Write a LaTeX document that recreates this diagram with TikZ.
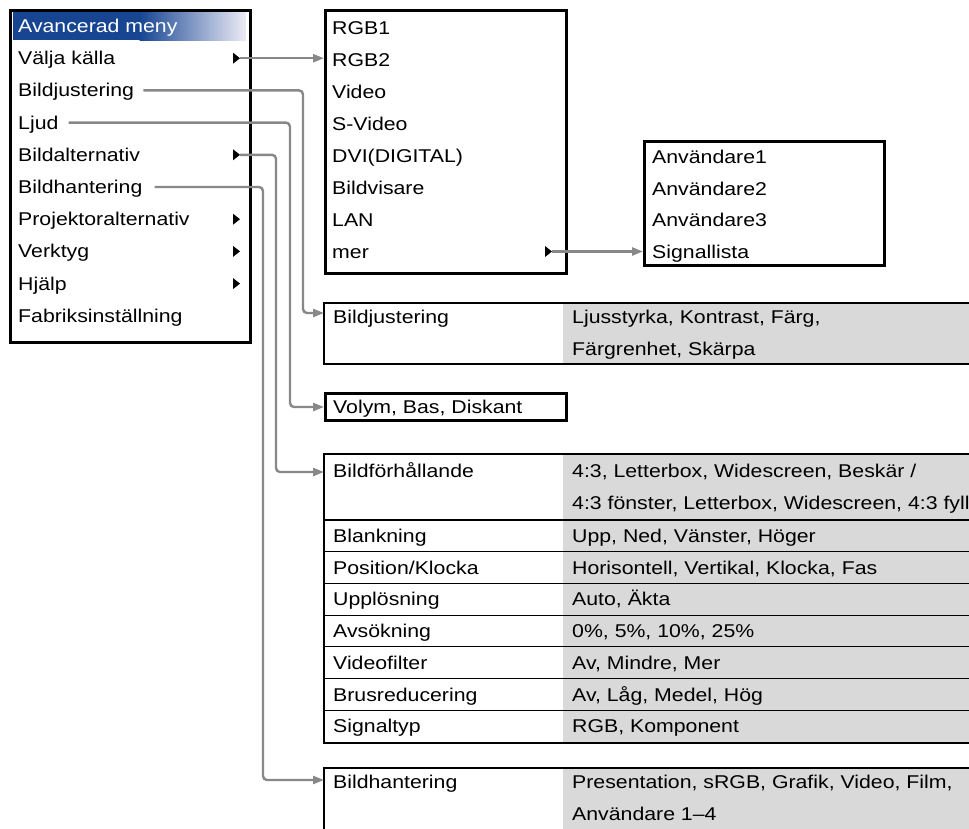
\documentclass[tikz,border=0pt]{standalone}
\usepackage{fontspec}
\setmainfont{Liberation Sans}[FakeStretch=1.15]
\usetikzlibrary{arrows.meta, positioning, calc}
\definecolor{cblue}{HTML}{174592}
\definecolor{cpale}{HTML}{ECECF6}
\definecolor{cgrey}{HTML}{888888}
\definecolor{cfill}{HTML}{D9D9D9}
\tikzset{
  item/.style={anchor=west, inner sep=0pt, text height=13pt, text depth=0pt, font=\fontsize{18.5}{22}\selectfont},
  frame/.style={draw=black, line width=2.5pt},
  rowline/.style={draw=black, line width=1.1pt},
  conn/.style={draw=cgrey, line width=2.4pt, rounded corners=4pt, -{Triangle[length=11pt, width=8pt]}},
  pointer/.style={fill=black},
}
\begin{document}
\begin{tikzpicture}[x=1pt, y=-1pt]
  \useasboundingbox (0,0) rectangle (969,828);
  % main menu
  \fill[cblue] (13,12) rectangle (140,40);
  \shade[left color=cblue, right color=cpale] (139.5,12) rectangle (246,40);
  \node[item, text=white] (head) at (18,26) {Avancerad meny};
  \foreach \t [count=\i, evaluate=\i as \y using 26+32.2*\i] in {Välja källa, Bildjustering, Ljud, Bildalternativ, Bildhantering, Projektoralternativ, Verktyg, Hjälp, Fabriksinställning}
    \node[item] (m\i) at (18,\y) {\t};
  \foreach \i in {1,4,6,7,8} {
    \coordinate (p\i) at (240, 26+32.2*\i);
    \fill[pointer] (p\i) -- ++(-7,-5.5) -- ++(0,11) -- cycle;
  }
  \node[frame, anchor=north west, minimum width=240pt, minimum height=332pt, inner sep=0pt] (menu) at (9,9) {};
  % source list
  \node[frame, anchor=north west, minimum width=241pt, minimum height=263pt, inner sep=0pt] (src) at (324,9) {};
  \foreach \t [count=\i from 0, evaluate=\i as \y using 27.5+32*\i] in {RGB1, RGB2, Video, S-Video, DVI(DIGITAL), Bildvisare, LAN, mer}
    \node[item] (s\i) at (332,\y) {\t};
  \coordinate (pm) at (552,251.5);
  \fill[pointer] (pm) -- ++(-7,-5.5) -- ++(0,11) -- cycle;
  % signal list
  \node[frame, anchor=north west, minimum width=240pt, minimum height=124pt, inner sep=0pt] (sig) at (643,140) {};
  \foreach \t [count=\i from 0, evaluate=\i as \y using 157+31.5*\i] in {Användare1, Användare2, Användare3, Signallista}
    \node[item] (u\i) at (652,\y) {\t};
  % Bildjustering table
  \fill[cfill] (563,303) rectangle (969,364);
  \draw[frame] (969,303) -| (324,364) -- (969,364);
  \node[item] (bj) at (333,317) {Bildjustering};
  \node[item] (bjv1) at (572,317) {Ljusstyrka, Kontrast, Färg,};
  \node[item] (bjv2) at (572,348.5) {Färgrenhet, Skärpa};
  % Ljud box
  \node[frame, anchor=north west, minimum width=241pt, minimum height=27pt, inner sep=0pt] (ljud) at (324,392) {};
  \node[item] (vol) at (333,407) {Volym, Bas, Diskant};
  % Bildalternativ table
  \fill[cfill] (563,454) rectangle (969,743);
  \foreach \k in {0,...,6}
    \draw[rowline] (324,520+31.7*\k) -- (969,520+31.7*\k);
  \draw[frame] (969,454) -| (324,743) -- (969,743);
  \node[item] (bf) at (333,471) {Bildförhållande};
  \node[item] (bfv1) at (572,471) {4:3, Letterbox, Widescreen, Beskär /};
  \node[item] (bfv2) at (572,503) {4:3 fönster, Letterbox, Widescreen, 4:3 fyll};
  \foreach \a/\b [count=\k from 0, evaluate=\k as \y using 536+31.7*\k] in {Blankning/{Upp, Ned, Vänster, Höger}, {Position/Klocka}/{Horisontell, Vertikal, Klocka, Fas}, Upplösning/{Auto, Äkta}, Avsökning/{0\%, 5\%, 10\%, 25\%}, Videofilter/{Av, Mindre, Mer}, Brusreducering/{Av, Låg, Medel, Hög}, Signaltyp/{RGB, Komponent}} {
    \node[item] (l\k) at (333,\y) {\a};
    \node[item] (v\k) at (572,\y) {\b};
  }
  % Bildhantering table
  \fill[cfill] (563,768) rectangle (969,840);
  \draw[frame] (969,768) -| (324,840);
  \node[item] (bh) at (333,782) {Bildhantering};
  \node[item] (bhv1) at (572,782) {Presentation, sRGB, Grafik, Video, Film,};
  \node[item] (bhv2) at (572,814) {Användare 1\textendash 4};
  % connectors
  \coordinate (bjt) at (324,313);
  \coordinate (lt) at (324,407);
  \coordinate (bft) at (324,472);
  \coordinate (bht) at (324,780);
  \draw[conn] (p1) -- (src.west |- p1);
  \draw[conn] (pm) -- (sig.west |- pm);
  \draw[conn] ([xshift=9pt]m2.east) -| ([xshift=-21pt]bjt) -- (bjt);
  \draw[conn] ([xshift=10pt]m3.east) -| ([xshift=-34pt]lt) -- (lt);
  \draw[conn] (p4) -| ([xshift=-48pt]bft) -- (bft);
  \draw[conn] ([xshift=12pt]m5.east) -| ([xshift=-61pt]bht) -- (bht);
\end{tikzpicture}
\end{document}
